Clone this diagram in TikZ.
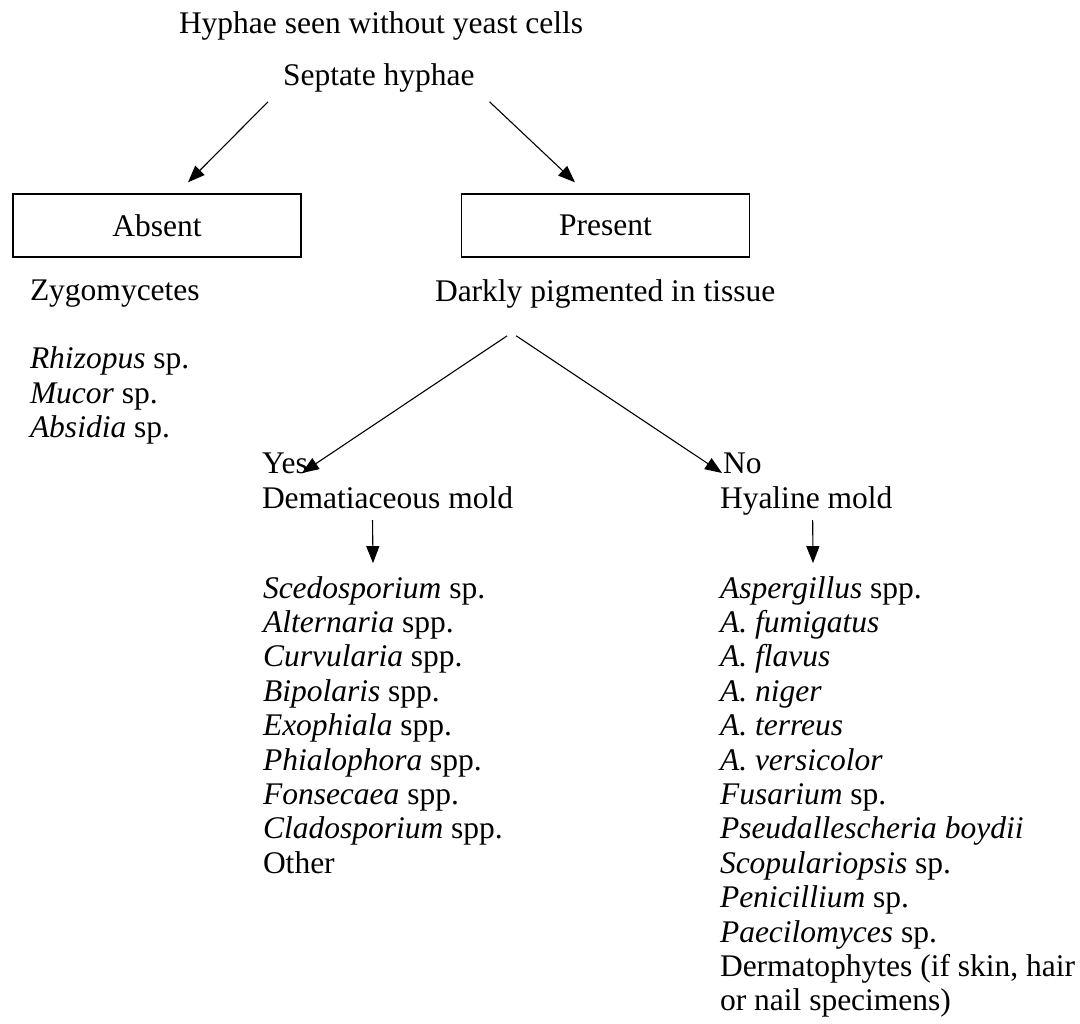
\documentclass[tikz,border=0pt]{standalone}
\usepackage{fontspec}
\setmainfont{Liberation Serif}
\usetikzlibrary{arrows.meta}
\begin{document}
\begin{tikzpicture}[x=0.5pt,y=-0.5pt,
  txt/.style={inner sep=0pt,outer sep=0pt,font=\fontsize{15.75pt}{17.3pt}\selectfont},
  boxnode/.style={draw,line width=0.65pt,minimum width=144pt,minimum height=31.5pt,inner sep=0pt,font=\fontsize{15.75pt}{17.3pt}\selectfont},
  arr/.style={line width=0.55pt,-{Triangle[length=8.5pt,width=6.5pt]}}]
\useasboundingbox (0,0) rectangle (1080,1023);
% top texts
\node[txt,anchor=base west] (hyph) at (179,33) {Hyphae seen without yeast cells};
\node[txt,anchor=base west] (sep) at (283,85) {Septate hyphae};
% boxes
\node[boxnode] (absent) at (157,225.5) {Absent};
\node[boxnode] (present) at (605.5,225.5) {Present};
% left branch
\node[txt,anchor=base west] (zygo) at (30,300) {Zygomycetes};
\node[txt,anchor=base west] (rhiz) at (30,368) {\textit{Rhizopus} sp.};
\node[txt,anchor=base west] (muc) at (30,403) {\textit{Mucor} sp.};
\node[txt,anchor=base west] (absi) at (30,437) {\textit{Absidia} sp.};
% right branch
\node[txt,anchor=base west] (dark) at (435,301) {Darkly pigmented in tissue};
\node[txt,anchor=base west] (yes) at (262,473) {Yes};
\node[txt,anchor=base west] (demat) at (262,508) {Dematiaceous mold};
\node[txt,anchor=base west] (no) at (723,473) {No};
\node[txt,anchor=base west] (hyal) at (720,508) {Hyaline mold};
% lists
\foreach \t [count=\i from 0] in {{\textit{Scedosporium} sp.},{\textit{Alternaria} spp.},{\textit{Curvularia} spp.},{\textit{Bipolaris} spp.},{\textit{Exophiala} spp.},{\textit{Phialophora} spp.},{\textit{Fonsecaea} spp.},{\textit{Cladosporium} spp.},{Other}}
  \node[txt,anchor=base west] (d\i) at (263,598+\i*34.4) {\t};
\foreach \t [count=\i from 0] in {{\textit{Aspergillus} spp.},{\textit{A. fumigatus}},{\textit{A. flavus}},{\textit{A. niger}},{\textit{A. terreus}},{\textit{A. versicolor}},{\textit{Fusarium} sp.},{\textit{Pseudallescheria boydii}},{\textit{Scopulariopsis} sp.},{\textit{Penicillium} sp.},{\textit{Paecilomyces} sp.},{Dermatophytes (if skin, hair},{or nail specimens)}}
  \node[txt,anchor=base west] (h\i) at (720,598+\i*34.4) {\t};
% connectors
\draw[arr] ([shift={(-15,10)}]sep.south west) -- ([shift={(31,-11)}]absent.north);
\draw[arr] ([shift={(15,10)}]sep.south east) -- ([shift={(-30.5,-11)}]present.north);
\draw[arr] ([shift={(-98,28)}]dark.south) -- ([shift={(-6,0)}]yes.base east);
\draw[arr] ([shift={(-89,28)}]dark.south) -- ([shift={(-1,0)}]no.base west);
\draw[arr] ([shift={(-15,12)}]demat.base) -- ([shift={(110,-13)}]d0.north west);
\draw[arr] ([shift={(6.5,12)}]hyal.base) -- ([shift={(93,-13)}]h0.north west);
\end{tikzpicture}
\end{document}
